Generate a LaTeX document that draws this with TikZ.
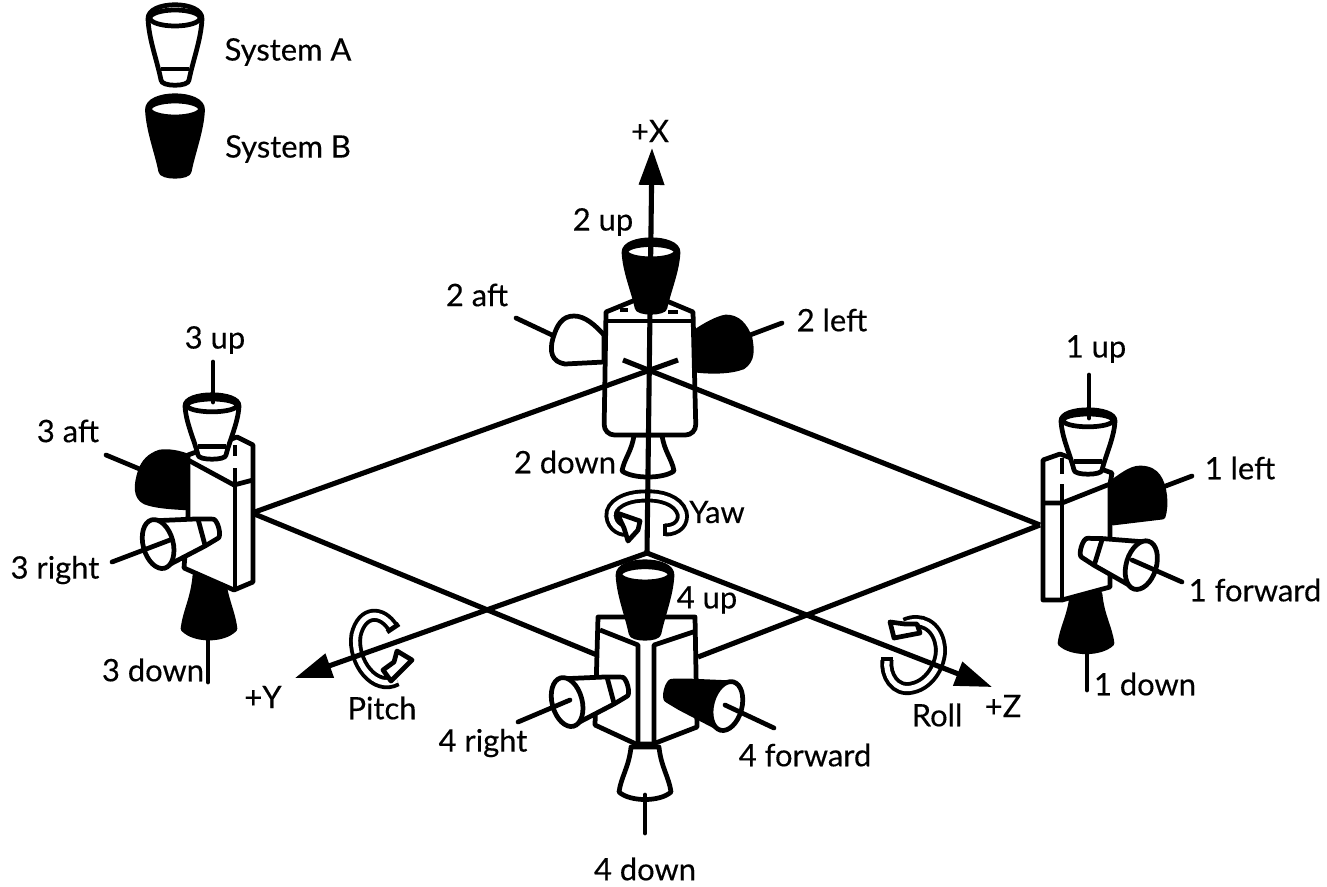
\documentclass[tikz,border=0pt]{standalone}
\usepackage{fontspec}
\setmainfont{Lato}[FakeBold=0.3]
\usetikzlibrary{arrows.meta}
\tikzset{x=.02cm,y=-.02cm}
\tikzset{
  thick line/.style={line width=2.7pt,line join=round},
  axis line/.style={line width=2.9pt},
  leader/.style={line width=2.7pt,line cap=round},
  ribbon/.style={line width=2.2pt,double=white,double distance=3pt},
  lab/.style={font=\fontsize{17.6}{20}\selectfont,inner sep=0pt},
  axis tip/.style={-{Triangle[length=21pt,width=14pt]}},
  % bell seen from above, mouth open
  pics/nozzle/.style={code={
    \draw[thick line,fill=#1] (-14,-5) .. controls (-14,2) and (14,2) .. (14,-5)
      .. controls (18,-25) and (26,-45) .. (27,-66)
      .. controls (28,-85) and (-28,-85) .. (-27,-66)
      .. controls (-26,-45) and (-18,-25) .. (-14,-5) -- cycle;
    \draw[thick line] (-14,-16) -- (14,-16);
    \draw[thick line,fill=white] (0,-67) ellipse [x radius=25,y radius=8];
  }},
  % bell turned sideways, mouth seen at an angle
  pics/sidenozzle/.style={code={
    \draw[thick line,fill=#1] (-10,-3) .. controls (-10,2) and (10,2) .. (10,-3)
      -- (14,-17) -- (24,-62) -- (-24,-62) -- (-14,-17) -- cycle;
    \draw[thick line] (-14,-17) -- (14,-17);
    \draw[thick line,fill=white] (0,-62) ellipse [x radius=25,y radius=15];
  }},
  % bell seen from outside, mouth hidden
  pics/bell/.style={code={
    \draw[thick line,fill=#1] (-14,0) .. controls (-16,-20) and (-24,-30) .. (-26,-45)
      .. controls (-15,-55) and (15,-55) .. (26,-45)
      .. controls (24,-30) and (16,-20) .. (14,0) -- cycle;
  }},
}
\begin{document}
\begin{tikzpicture}
\useasboundingbox (0,0) rectangle (1327,886);
% free ends
\coordinate (xbase) at (647,553);
\coordinate (xtip) at (652,148);
\coordinate (ytip) at (295,678);
\coordinate (ztip) at (992,687);
\coordinate (crossl) at (623,360);
\coordinate (crossr) at (678,360);
\coordinate (quadl) at (252,513);
\coordinate (quadr) at (1040,525);
\coordinate (quadbl) at (597,655);
\coordinate (quadbr) at (698,657);
% key
\pic at (175,85) {nozzle=white};
\pic[xscale=1.02] at (175,176) {nozzle=black};
\node[lab] (sysa) at (288,52) {System A};
\node[lab] (sysb) at (288,149) {System B};
% quad 2
\draw[thick line,fill=white] (604,335) .. controls (595,325) and (585,316) .. (574,316)
  .. controls (562,316) and (557,325) .. (553,338) .. controls (549,352) and (552,362) .. (565,364) -- (604,362) -- cycle;
\draw[thick line,fill=black] (695,332) .. controls (705,325) and (718,318) .. (726,317)
  .. controls (738,317) and (745,325) .. (750,338) .. controls (752,350) and (753,360) .. (743,367)
  .. controls (730,372) and (710,372) .. (695,370) -- cycle;
\pic[rotate=180,yscale=.8] at (648,435) {bell=white};
\draw[thick line,fill=white] (606,312) -- (650,294) -- (693,312) [rounded corners=6pt] -- (696,435) -- (604,435) [sharp corners] -- cycle;
\draw[thick line] (606,321) -- (693,321);
\draw[thick line] (620,310) -- (628,310) (668,312) -- (678,312);
% rotation arrows
\draw[ribbon] (665,530) .. controls (678,530) and (684,522) .. (682,513)
  .. controls (678,500) and (660,495) .. (645,496) .. controls (625,496) and (610,505) .. (611,516)
  .. controls (612,527) and (622,532) .. (630,530);
\draw[thick line,fill=white] (617,513) -- (640,521) -- (638,530) -- (628,541) -- (624,528) -- cycle;
\draw[thick line] (665,524) -- (665,536);
\draw[ribbon] (393,628) .. controls (382,610) and (362,610) .. (356,635)
  .. controls (352,662) and (375,692) .. (397,680);
\draw[thick line,fill=white] (397,651) -- (412,660) -- (391,681) -- (383,670) -- (394,662) -- cycle;
\draw[thick line] (387,632) -- (399,624);
\draw[ribbon] (887,660) .. controls (885,675) and (895,692) .. (912,688)
  .. controls (932,684) and (943,660) .. (940,645) .. controls (937,625) and (920,617) .. (905,624);
\draw[thick line,fill=white] (890,622) -- (894,638) -- (920,633) -- (917,624) -- (905,624) -- cycle;
\draw[thick line] (881,659) -- (893,659);
% axes and diamond
\draw[axis line] (quadl) -- (crossr);
\draw[axis line] (quadr) -- (crossl);
\draw[axis line] (quadl) -- (quadbl);
\draw[axis line] (quadr) -- (quadbr);
\pic[yscale=.9] at (651,312) {nozzle=black};
\draw[axis line,axis tip] (xbase) -- (xtip);
\draw[axis line,axis tip] (xbase) -- (ytip);
\draw[axis line,axis tip] (xbase) -- (ztip);
% quad 3
\draw[thick line,fill=black] (190,457) .. controls (178,452) and (168,451) .. (160,452)
  .. controls (150,455) and (143,462) .. (140,472) .. controls (136,485) and (135,497) .. (145,502)
  .. controls (155,506) and (170,507) .. (190,508) -- cycle;
\pic[rotate=180,yscale=1.2] at (209,575) {bell=black};
\draw[thick line,fill=white] (188,455) -- (237,437) -- (253,445) -- (253,582) -- (234,590) -- (184,568) -- (188,515) -- cycle;
\draw[thick line] (188,460) -- (234,485) -- (253,480);
\draw[thick line] (235,445) -- (235,456) (235,468) -- (235,590);
\pic[yscale=.8] at (212,459) {nozzle=white};
\pic[rotate=105] at (218,528) {sidenozzle=white};
% quad 1
\draw[thick line,fill=black] (1112,482) .. controls (1120,477) and (1130,468) .. (1140,468)
  .. controls (1150,468) and (1155,472) .. (1158,476) .. controls (1165,485) and (1167,505) .. (1163,517)
  -- (1113,523) -- cycle;
\pic[rotate=180,yscale=1.1] at (1086,594) {bell=black};
\draw[thick line,fill=white] (1043,460) -- (1060,454) -- (1112,473) -- (1110,484) -- (1110,587) -- (1062,600) -- (1043,600) -- cycle;
\draw[thick line] (1043,503) -- (1062,503) -- (1110,484);
\draw[thick line] (1062,458) -- (1062,474) (1062,484) -- (1062,600);
\pic[yscale=.8] at (1088,474) {nozzle=white};
\pic[rotate=-107] at (1082,547) {sidenozzle=white};
% quad 4
\draw[thick line,fill=white] (598,617) -- (695,617) -- (697,727) -- (653,744) -- (636,744) -- (595,725) -- cycle;
\draw[thick line] (600,630) -- (638,645) -- (638,744);
\draw[thick line] (696,631) -- (654,645) -- (654,744);
\pic[yscale=.95] at (645,638) {nozzle=black};
\pic[rotate=105] at (627,686) {sidenozzle=white};
\pic[rotate=-105] at (667,690) {sidenozzle=black};
\pic[rotate=180] at (645,747) {bell=white};
% leaders
\foreach \lname/\ax/\ay/\bx/\by in {
    1up/1089/375/1089/418, 1left/1163/487/1192/476, 1forward/1132/560/1182/582, 1down/1087/640/1087/690,
    2aft/516/318/552/335, 2left/750/335/782/323,
    3up/213/362/213/402, 3aft/106/455/142/470, 3right/112/562/170/540, 3down/208/630/208/682,
    4right/518/722/570/700, 4forward/725/705/774/728, 4down/645/795/645/833} {
  \coordinate (\lname a) at (\ax,\ay);
  \coordinate (\lname b) at (\bx,\by);
  \draw[leader] (\lname a) -- (\lname b);
}
% labels
\node[lab] (lx) at (650,131) {+X};
\node[lab] (ly) at (263,697) {+Y};
\node[lab] (lz) at (1003,706) {+Z};
\node[lab] (lyaw) at (717,512) {Yaw};
\node[lab] (lpitch) at (382,708) {Pitch};
\node[lab] (lroll) at (937,715) {Roll};
\node[lab] (l1up) at (1096,349) {1 up};
\node[lab] (l1left) at (1240,468) {1 left};
\node[lab] (l1forward) at (1255,590) {1 forward};
\node[lab] (l1down) at (1145,684) {1 down};
\node[lab] (l2up) at (603,222) {2 up};
\node[lab] (l2aft) at (477,295) {2 aft};
\node[lab] (l2left) at (832,320) {2 left};
\node[lab] (l2down) at (565,462) {2 down};
\node[lab] (l3up) at (215,340) {3 up};
\node[lab] (l3aft) at (68,431) {3 aft};
\node[lab] (l3right) at (55,570) {3 right};
\node[lab] (l3down) at (153,670) {3 down};
\node[lab] (l4up) at (707,600) {4 up};
\node[lab] (l4right) at (483,743) {4 right};
\node[lab] (l4forward) at (805,755) {4 forward};
\node[lab] (l4down) at (645,869) {4 down};
\end{tikzpicture}
\end{document}
